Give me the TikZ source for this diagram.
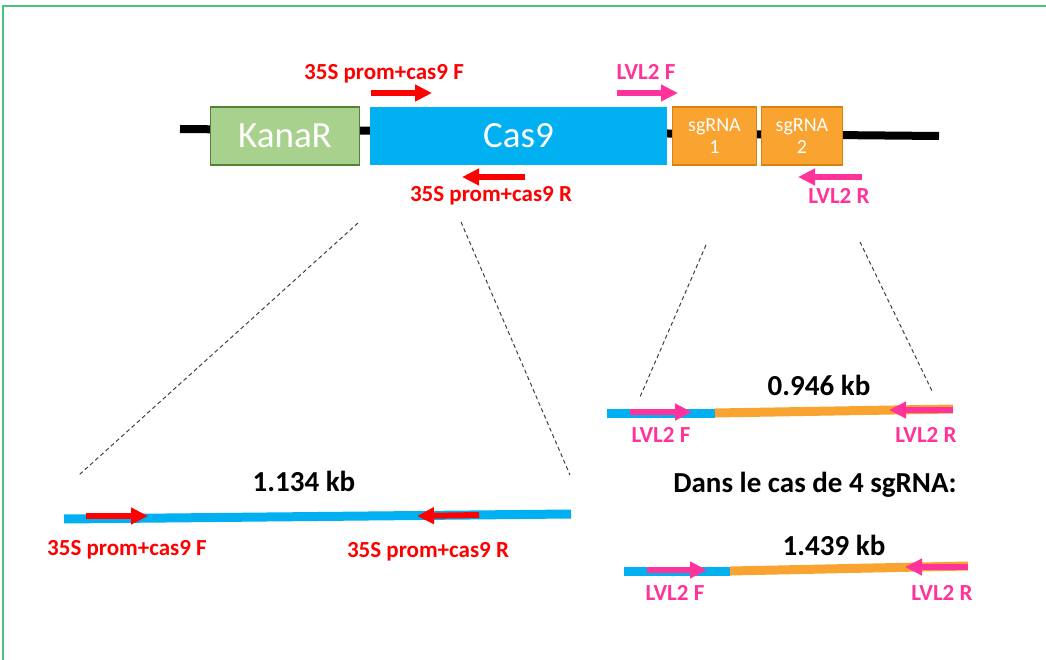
\documentclass[tikz,border=0pt]{standalone}
\usepackage{fontspec}
\setmainfont{Carlito}
\usetikzlibrary{arrows.meta, positioning}
\definecolor{cas}{HTML}{00B0F0}
\definecolor{kanafill}{HTML}{A9D18E}
\definecolor{kanaline}{HTML}{548235}
\definecolor{sgfill}{HTML}{F9A331}
\definecolor{sgline}{HTML}{D9820F}
\definecolor{lvl}{HTML}{FF3399}
\definecolor{framegreen}{HTML}{4CC27F}
\begin{document}
\begin{tikzpicture}[
  x=1pt, y=-1pt,
  frame/.style={framegreen, line width=2pt},
  backbone/.style={black, line width=8pt},
  gene/.style={minimum height=58pt, inner sep=0pt, text=white, font=\fontsize{37}{40}\selectfont},
  sgbox/.style={gene, draw=sgline, fill=sgfill, line width=1.5pt, align=center, font=\fontsize{20}{22}\selectfont},
  amplicon/.style={line width=9pt},
  primer/.style={line width=6pt, -{Triangle[length=17pt, width=16pt]}},
  lbl/.style={anchor=base, font=\fontsize{23}{26}\selectfont\bfseries},
  size/.style={anchor=base, font=\fontsize{29}{32}\selectfont\bfseries},
  zoomline/.style={black!75, line width=1pt, dash pattern=on 4pt off 3pt},
]
\useasboundingbox (0,0) rectangle (1046,660);
\draw[frame] (1046,6) -- (3,6) -- (3,660);

% construct
\coordinate (bbL) at (180,129);
\coordinate (bbR) at (939,136);
\draw[backbone] (bbL) -- (bbR);
\node[gene, draw=kanaline, fill=kanafill, line width=1.5pt, minimum width=149pt] (kana) at (285,136) {KanaR};
\node[gene, fill=cas, minimum width=297pt] (cas9) at (518.5,136) {Cas9};
\node[sgbox, minimum width=84pt] (sg1) at (714.5,136) {sgRNA\\1};
\node[sgbox, minimum width=81pt] (sg2) at (802,136) {sgRNA\\2};

% primers on construct
\coordinate (cF1) at (371,93);  \coordinate (cF2) at (432,93);
\coordinate (cR1) at (525,177); \coordinate (cR2) at (462,177);
\coordinate (lF1) at (617,93);  \coordinate (lF2) at (678,93);
\coordinate (lR1) at (862,177); \coordinate (lR2) at (798,177);
\draw[primer, red] (cF1) -- (cF2);
\draw[primer, red] (cR1) -- (cR2);
\draw[primer, lvl] (lF1) -- (lF2);
\draw[primer, lvl] (lR1) -- (lR2);
\node[lbl, red] (cFlbl) at (384,80) {35S prom+cas9 F};
\node[lbl, red] (cRlbl) at (491,202) {35S prom+cas9 R};
\node[lbl, lvl] (lFlbl) at (646,80) {LVL2 F};
\node[lbl, lvl] (lRlbl) at (839,204) {LVL2 R};

% zoom lines
\coordinate (z1a) at (358,223); \coordinate (z1b) at (79,475);
\coordinate (z2a) at (461,222); \coordinate (z2b) at (570,475);
\coordinate (z3a) at (706,245); \coordinate (z3b) at (640,397);
\coordinate (z4a) at (860,242); \coordinate (z4b) at (933,393);
\draw[zoomline] (z1a) -- (z1b);
\draw[zoomline] (z2a) -- (z2b);
\draw[zoomline] (z3a) -- (z3b);
\draw[zoomline] (z4a) -- (z4b);

% amplicon cas9
\coordinate (aL) at (64,519); \coordinate (aR) at (571,514);
\draw[amplicon, cas] (aL) -- (aR);
\coordinate (aF1) at (86,516);  \coordinate (aF2) at (148,516);
\coordinate (aR1) at (479,515); \coordinate (aR2) at (417,516);
\draw[primer, red] (aF1) -- (aF2);
\draw[primer, red] (aR1) -- (aR2);
\node[size] (kb1) at (304,491) {1.134 kb};
\node[lbl, red] (aFlbl) at (127,555) {35S prom+cas9 F};
\node[lbl, red] (aRlbl) at (428,557) {35S prom+cas9 R};

% amplicon 2 sgRNA
\coordinate (bL) at (607,413); \coordinate (bM) at (715,413); \coordinate (bR) at (953,409);
\draw[amplicon, cas] (bL) -- (bM);
\draw[amplicon, sgfill] (bM) -- (bR);
\coordinate (bF1) at (630,412); \coordinate (bF2) at (692,412);
\coordinate (bR1) at (953,410); \coordinate (bR2) at (889,410);
\draw[primer, lvl] (bF1) -- (bF2);
\draw[primer, lvl] (bR1) -- (bR2);
\node[size] (kb2) at (819,395) {0.946 kb};
\node[lbl, lvl] (bFlbl) at (661,442) {LVL2 F};
\node[lbl, lvl] (bRlbl) at (926,442) {LVL2 R};

\node[size] (note) at (815,492) {Dans le cas de 4 sgRNA:};

% amplicon 4 sgRNA
\coordinate (dL) at (624,571); \coordinate (dM) at (730,571); \coordinate (dR) at (968,566);
\draw[amplicon, cas] (dL) -- (dM);
\draw[amplicon, sgfill] (dM) -- (dR);
\coordinate (dF1) at (647,570); \coordinate (dF2) at (707,570);
\coordinate (dR1) at (968,567); \coordinate (dR2) at (905,567);
\draw[primer, lvl] (dF1) -- (dF2);
\draw[primer, lvl] (dR1) -- (dR2);
\node[size] (kb3) at (834,555) {1.439 kb};
\node[lbl, lvl] (dFlbl) at (675,600) {LVL2 F};
\node[lbl, lvl] (dRlbl) at (942,600) {LVL2 R};
\end{tikzpicture}
\end{document}
